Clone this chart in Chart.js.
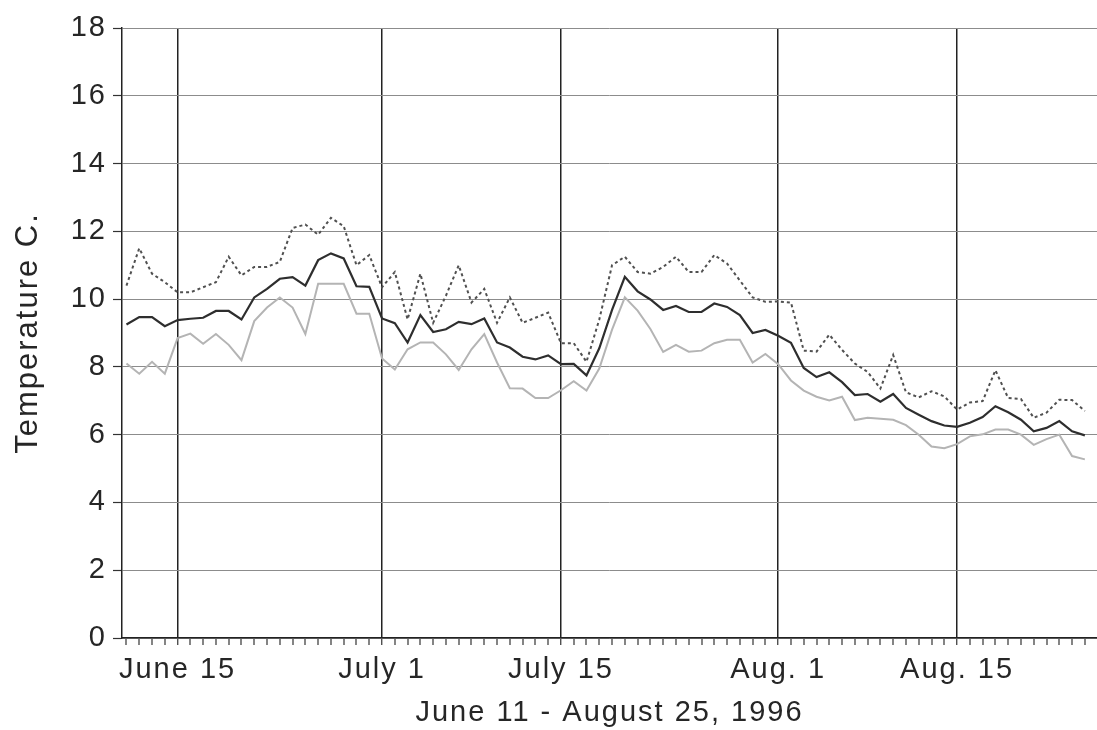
<!DOCTYPE html>
<html>
<head>
<meta charset="utf-8">
<script src="https://cdn.jsdelivr.net/npm/chart.js@4.4.1/dist/chart.umd.min.js"></script>
<style>
    body { margin: 0; background: #fff; }
    #wrap { width: 1097px; height: 730px; position: relative; }
</style>
</head>
<body>
<div id="wrap"><canvas id="tempChart"></canvas></div>
<script>
// Daily water temperature, June 11 - August 25, 1996 (day 0 = June 11)
var maxTemp = [
    10.4, 11.5, 10.75, 10.5, 10.2, 10.2, 10.35, 10.5, 11.25, 10.7,
    10.95, 10.95, 11.1, 12.1, 12.2, 11.9, 12.4, 12.15, 11.0, 11.3,
    10.35, 10.8, 9.4, 10.75, 9.3, 10.1, 11.0, 9.9, 10.3, 9.3,
    10.05, 9.3, 9.45, 9.6, 8.7, 8.7, 8.15, 9.4, 11.0, 11.25,
    10.8, 10.75, 10.95, 11.25, 10.8, 10.8, 11.3, 11.05, 10.55, 10.05,
    9.92, 9.93, 9.9, 8.48, 8.45, 8.95, 8.5, 8.1, 7.85, 7.36,
    8.35, 7.25, 7.1, 7.28, 7.13, 6.74, 6.95, 6.99, 7.9, 7.08,
    7.05, 6.5, 6.65, 7.03, 7.02, 6.7
];
var meanTemp = [
    9.25, 9.47, 9.47, 9.2, 9.38, 9.42, 9.45, 9.65, 9.65, 9.4,
    10.05, 10.3, 10.6, 10.65, 10.4, 11.15, 11.35, 11.2, 10.38, 10.36,
    9.43, 9.29, 8.72, 9.53, 9.03, 9.11, 9.33, 9.26, 9.43, 8.72,
    8.57, 8.3, 8.22, 8.34, 8.08, 8.09, 7.75, 8.55, 9.68, 10.66,
    10.23, 9.99, 9.68, 9.8, 9.62, 9.62, 9.87, 9.77, 9.53, 9.0,
    9.09, 8.92, 8.71, 7.97, 7.7, 7.84, 7.55, 7.17, 7.2, 6.97,
    7.2, 6.79, 6.59, 6.4, 6.27, 6.23, 6.35, 6.52, 6.84, 6.66,
    6.44, 6.1, 6.2, 6.4, 6.1, 5.98
];
var minTemp = [
    8.1, 7.8, 8.15, 7.8, 8.85, 8.98, 8.68, 8.97, 8.65, 8.2,
    9.35, 9.75, 10.05, 9.75, 8.97, 10.45, 10.45, 10.45, 9.57, 9.57,
    8.25, 7.92, 8.52, 8.72, 8.72, 8.37, 7.91, 8.52, 8.97, 8.13,
    7.37, 7.36, 7.08, 7.08, 7.31, 7.58, 7.3, 7.95, 9.1, 10.05,
    9.66, 9.12, 8.44, 8.65, 8.45, 8.48, 8.7, 8.8, 8.8, 8.13,
    8.38, 8.08, 7.6, 7.3, 7.12, 7.01, 7.12, 6.43, 6.5, 6.47,
    6.44, 6.28, 6.0, 5.65, 5.6, 5.72, 5.95, 6.01, 6.15, 6.15,
    6.0, 5.7, 5.87, 6.0, 5.37, 5.27
];

// labelled dates on the x axis (day numbers counted from June 11)
var labelDays = [4, 20, 34, 51, 65];
var labelText = ['June 15', 'July 1', 'July 15', 'Aug. 1', 'Aug. 15'];

var fontFamily = '"Liberation Sans", Arial, Helvetica, sans-serif';
var textColor = '#262626';

function toPoints(values) {
    return values.map((v, i) => ({ x: i, y: v }));
}

// canvas loses its state on resize, so set letter spacing before every layout and draw
const letterSpacingPlugin = {
    id: 'letterSpacing',
    beforeUpdate(chart) { chart.ctx.letterSpacing = '2px'; },
    beforeDraw(chart) { chart.ctx.letterSpacing = '2px'; }
};

const ctx = document.getElementById('tempChart').getContext('2d');
const tempChart = new Chart(ctx, {
    type: 'line',
    data: {
        datasets: [
            {
                label: 'Maximum',
                data: toPoints(maxTemp),
                borderColor: '#505050',
                borderWidth: 2,
                borderDash: [3, 3],
                pointRadius: 0,
                tension: 0
            },
            {
                label: 'Mean',
                data: toPoints(meanTemp),
                borderColor: '#2e2e2e',
                borderWidth: 2.2,
                pointRadius: 0,
                tension: 0
            },
            {
                label: 'Minimum',
                data: toPoints(minTemp),
                borderColor: '#b4b4b4',
                borderWidth: 2,
                pointRadius: 0,
                tension: 0
            }
        ]
    },
    options: {
        responsive: true,
        maintainAspectRatio: false,
        animation: false,
        layout: { padding: { top: 28, right: 0, bottom: 0, left: 0 } },
        plugins: {
            legend: { display: false },
            tooltip: { enabled: false }
        },
        scales: {
            x: {
                type: 'linear',
                min: -0.35,
                max: 75.95,
                afterFit(scale) { scale.height = 92; },
                border: { color: '#222', width: 1.5 },
                grid: {
                    drawTicks: true,
                    tickLength: 7,
                    tickColor: '#333',
                    tickWidth: 1.2,
                    color: c => labelDays.includes(c.tick.value) ? '#222' : 'rgba(0,0,0,0)',
                    lineWidth: c => labelDays.includes(c.tick.value) ? 1.5 : 0
                },
                ticks: {
                    stepSize: 1,
                    autoSkip: false,
                    includeBounds: false,
                    maxRotation: 0,
                    padding: 8,
                    color: textColor,
                    font: { family: fontFamily, size: 29 },
                    callback: function (value) {
                        const idx = labelDays.indexOf(value);
                        return idx >= 0 ? labelText[idx] : '';
                    }
                },
                title: {
                    display: true,
                    text: 'June 11 - August 25, 1996',
                    color: textColor,
                    font: { family: fontFamily, size: 29 },
                    padding: { top: 0, bottom: 0 }
                }
            },
            y: {
                min: 0,
                max: 18,
                afterFit(scale) { scale.width = 122; },
                border: { color: '#222', width: 1.5 },
                grid: {
                    color: '#8c8c8c',
                    lineWidth: 1,
                    drawTicks: true,
                    tickLength: 9,
                    tickColor: '#333',
                    tickWidth: 1.2
                },
                ticks: {
                    stepSize: 2,
                    padding: 6,
                    color: textColor,
                    font: { family: fontFamily, size: 29 }
                },
                title: {
                    display: true,
                    text: 'Temperature C.',
                    color: textColor,
                    font: { family: fontFamily, size: 31 },
                    padding: { top: 10, bottom: 0 }
                }
            }
        }
    },
    plugins: [letterSpacingPlugin]
});
</script>
</body>
</html>
